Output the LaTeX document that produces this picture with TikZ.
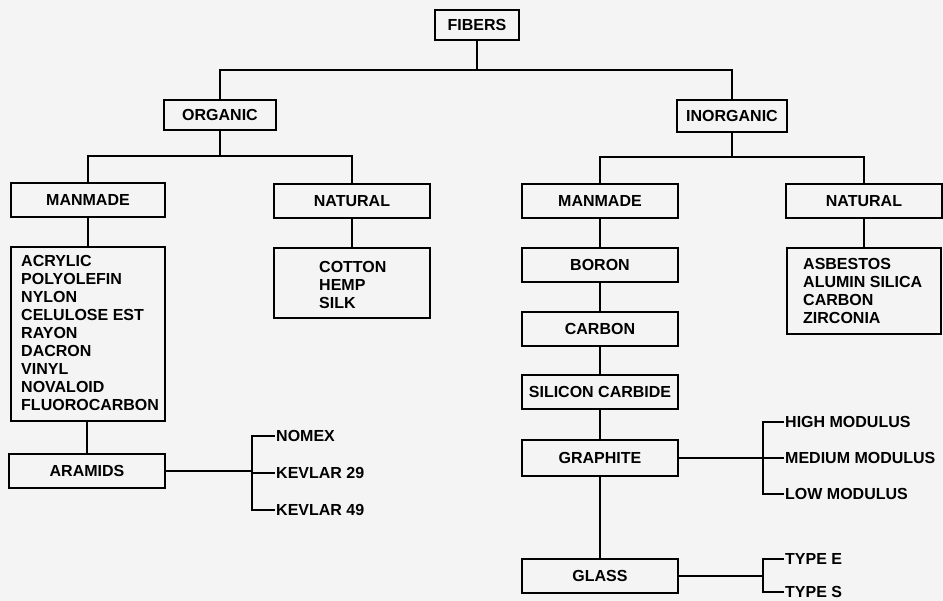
\documentclass[tikz,border=0pt]{standalone}
\usepackage{fontspec}
\setmainfont{Liberation Sans}
\definecolor{paper}{RGB}{244,244,244}
\begin{document}
\begin{tikzpicture}[x=1pt,y=-1pt,
  font=\fontsize{16}{18}\selectfont\bfseries,
  box/.style={draw=black, line width=1.6pt, rectangle, inner sep=0pt, minimum width=156pt, minimum height=34pt},
  listtxt/.style={inner sep=0pt, align=left, anchor=north west},
  lbl/.style={inner xsep=1pt, inner ysep=0pt, anchor=west},
  conn/.style={line width=2pt, line cap=rect}]
\fill[paper] (0,0) rectangle (943,601);
\useasboundingbox (0,0) rectangle (943,601);
% top
\node[box, minimum width=84pt, minimum height=30pt] (fibers) at (477,25) {FIBERS};
\node[box, minimum width=112pt, minimum height=30pt] (organic) at (220,115) {ORGANIC};
\node[box, minimum width=110pt, minimum height=32pt] (inorganic) at (732,116) {INORGANIC};
\coordinate (j1) at (477,70);
\draw[conn] (fibers.south) -- (j1);
\draw[conn] (organic.north) |- (j1) -| (inorganic.north);
% organic
\node[box, minimum width=154pt] (mmo) at (88,200) {MANMADE};
\node[box] (nato) at (352,201) {NATURAL};
\coordinate (j2) at (220,156);
\draw[conn] (organic.south) -- (j2);
\draw[conn] (mmo.north) |- (j2) -| (nato.north);
\node[box, minimum width=154pt, minimum height=174pt] (listo) at (88,334) {};
\node[listtxt] (listotxt) at (21,255) {ACRYLIC\\POLYOLEFIN\\NYLON\\CELULOSE EST\\RAYON\\DACRON\\VINYL\\NOVALOID\\FLUOROCARBON};
\node[box, minimum height=70pt] (listn) at (352,283) {};
\node[listtxt] (listntxt) at (319,261) {COTTON\\HEMP\\SILK};
\draw[conn] (mmo.south) -- (listo.north);
\draw[conn] (nato.south) -- (listn.north);
\node[box] (aramids) at (87,471) {ARAMIDS};
\draw[conn] (listo.south -| aramids.north) -- (aramids.north);
\coordinate (ka) at (252,471);
\node[lbl] (nomex) at (275,436) {NOMEX};
\node[lbl] (k29) at (275,473) {KEVLAR 29};
\node[lbl] (k49) at (275,510) {KEVLAR 49};
\draw[conn] (aramids.east) -- (ka);
\draw[conn, line cap=butt] (nomex.west) -| (ka) |- (k49.west);
\draw[conn, line cap=butt] (ka |- k29.west) -- (k29.west);
% inorganic
\node[box] (mmi) at (600,201) {MANMADE};
\node[box] (nati) at (864,201) {NATURAL};
\coordinate (j3) at (732,157);
\draw[conn] (inorganic.south) -- (j3);
\draw[conn] (mmi.north) |- (j3) -| (nati.north);
\node[box, minimum width=154pt, minimum height=86pt] (listi) at (864,291) {};
\node[listtxt] (listitxt) at (803,258) {ASBESTOS\\ALUMIN SILICA\\CARBON\\ZIRCONIA};
\draw[conn] (nati.south) -- (listi.north);
\node[box] (boron) at (600,265) {BORON};
\node[box] (carbon) at (600,329) {CARBON};
\node[box] (sic) at (600,392) {SILICON CARBIDE};
\node[box, minimum height=36pt] (graphite) at (600,458) {GRAPHITE};
\node[box] (glass) at (600,576) {GLASS};
\draw[conn] (mmi.south) -- (boron.north);
\draw[conn] (boron.south) -- (carbon.north);
\draw[conn] (carbon.south) -- (sic.north);
\draw[conn] (sic.south) -- (graphite.north);
\draw[conn] (graphite.south) -- (glass.north);
\coordinate (kg) at (763,458);
\node[lbl] (high) at (784,422) {HIGH MODULUS};
\node[lbl] (med) at (784,458) {MEDIUM MODULUS};
\node[lbl] (low) at (784,494) {LOW MODULUS};
\draw[conn] (graphite.east) -- (kg);
\draw[conn, line cap=butt] (high.west) -| (kg) |- (low.west);
\draw[conn, line cap=butt] (kg |- med.west) -- (med.west);
\coordinate (kgl) at (763,576);
\node[lbl] (typee) at (784,559) {TYPE E};
\node[lbl] (types) at (784,592) {TYPE S};
\draw[conn] (glass.east) -- (kgl);
\draw[conn, line cap=butt] (typee.west) -| (kgl) |- (types.west);
\end{tikzpicture}
\end{document}
